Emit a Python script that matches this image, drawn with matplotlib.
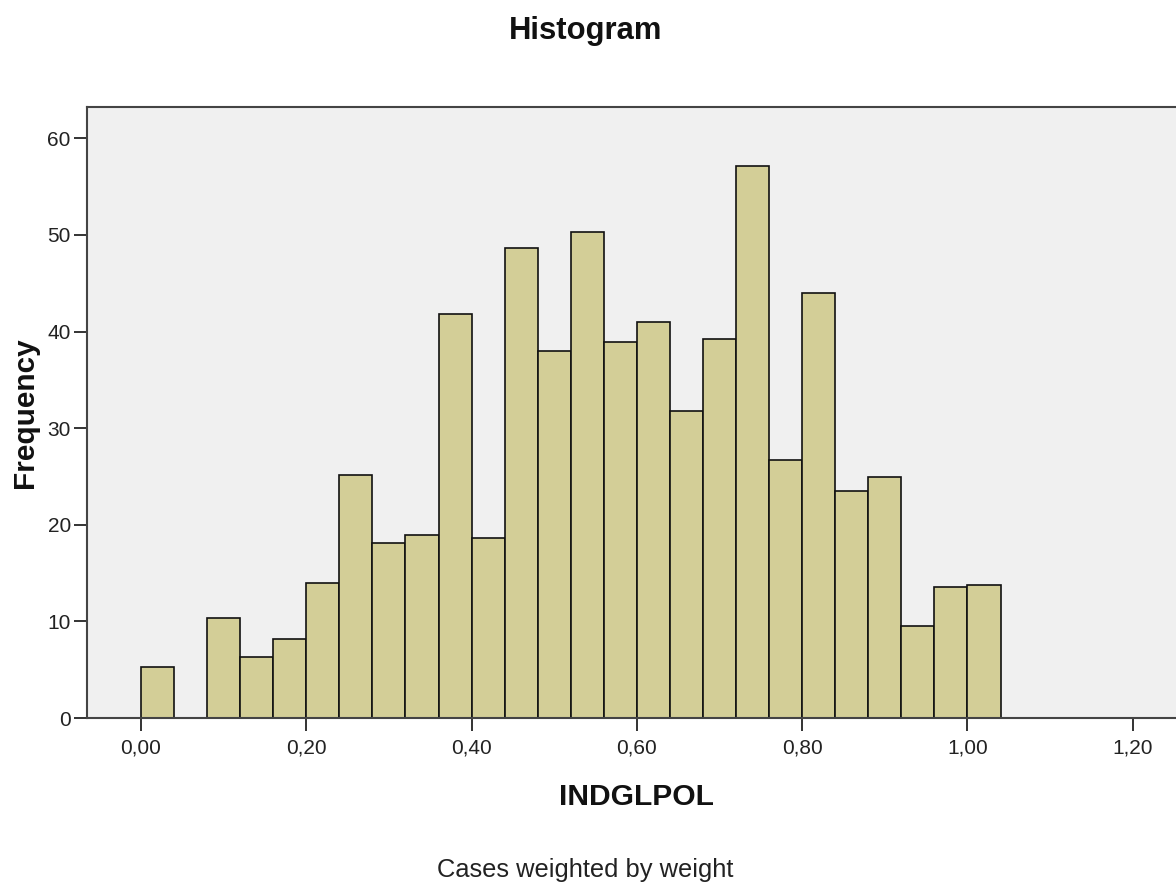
import numpy as np
import matplotlib
matplotlib.use("Agg")
import matplotlib.pyplot as plt

# ---- data ----
bin_width = 0.04
bin_starts = np.round(np.arange(26) * bin_width, 2)
frequency = [5.3, 0.0, 10.4, 6.3, 8.2, 14.0, 25.2, 18.1, 18.9, 41.8,
             18.6, 48.7, 38.0, 50.3, 38.9, 41.0, 31.8, 39.2, 57.1, 26.7,
             44.0, 23.5, 24.9, 9.5, 13.6, 13.8]
x_ticks = [0.0, 0.2, 0.4, 0.6, 0.8, 1.0, 1.2]
x_tick_labels = ["0,00", "0,20", "0,40", "0,60", "0,80", "1,00", "1,20"]
y_ticks = [0, 10, 20, 30, 40, 50, 60]
y_tick_labels = ["0", "10", "20", "30", "40", "50", "60"]

title = "Histogram"
x_label = "INDGLPOL"
y_label = "Frequency"
footnote = "Cases weighted by weight"

plt.rcParams['font.family'] = ['Liberation Sans', 'DejaVu Sans']

W, H = 1176, 882
fig = plt.figure(figsize=(W / 100, H / 100), dpi=100)
fig.patch.set_facecolor("white")

ax_left, ax_right, ax_top, ax_bottom = 86.7, 1185, 107, 718
ax = fig.add_axes([ax_left / W, 1 - ax_bottom / H, (ax_right - ax_left) / W, (ax_bottom - ax_top) / H])
ax.set_facecolor("#F0F0F0")

ax.bar(bin_starts, frequency, width=bin_width, align='edge',
       color="#D3CE97", edgecolor="#111111", linewidth=1.2, zorder=2)

ax.set_xlim(-0.0657, 1.2632)
ax.set_ylim(0, 63.25)
ax.set_xticks(x_ticks)
ax.set_xticklabels(x_tick_labels)
ax.set_yticks(y_ticks)
ax.set_yticklabels(y_tick_labels)

ax.tick_params(axis='both', direction='out', length=9.4, width=1.4, color="#333333",
               labelsize=15, labelcolor="#222222")
ax.tick_params(axis='x', pad=5.5)
ax.tick_params(axis='y', pad=2)

for s in ax.spines.values():
    s.set_color("#444444")
    s.set_linewidth(1.5)

fig.text(585.5 / W, 1 - 39.3 / H, title, ha='center', va='baseline',
         fontsize=22.3, fontweight='bold', color="#111111")
fig.text(636 / W, 1 - 805 / H, x_label, ha='center', va='baseline',
         fontsize=21.6, fontweight='bold', color="#111111")
fig.text(25.5 / W, 1 - 412.5 / H, y_label, ha='center', va='center', rotation=90,
         fontsize=21.4, fontweight='bold', color="#111111")
fig.text(585 / W, 1 - 876.7 / H, footnote, ha='center', va='baseline',
         fontsize=18.4, color="#222222")

fig.savefig("out.png", dpi=100, facecolor="white")
